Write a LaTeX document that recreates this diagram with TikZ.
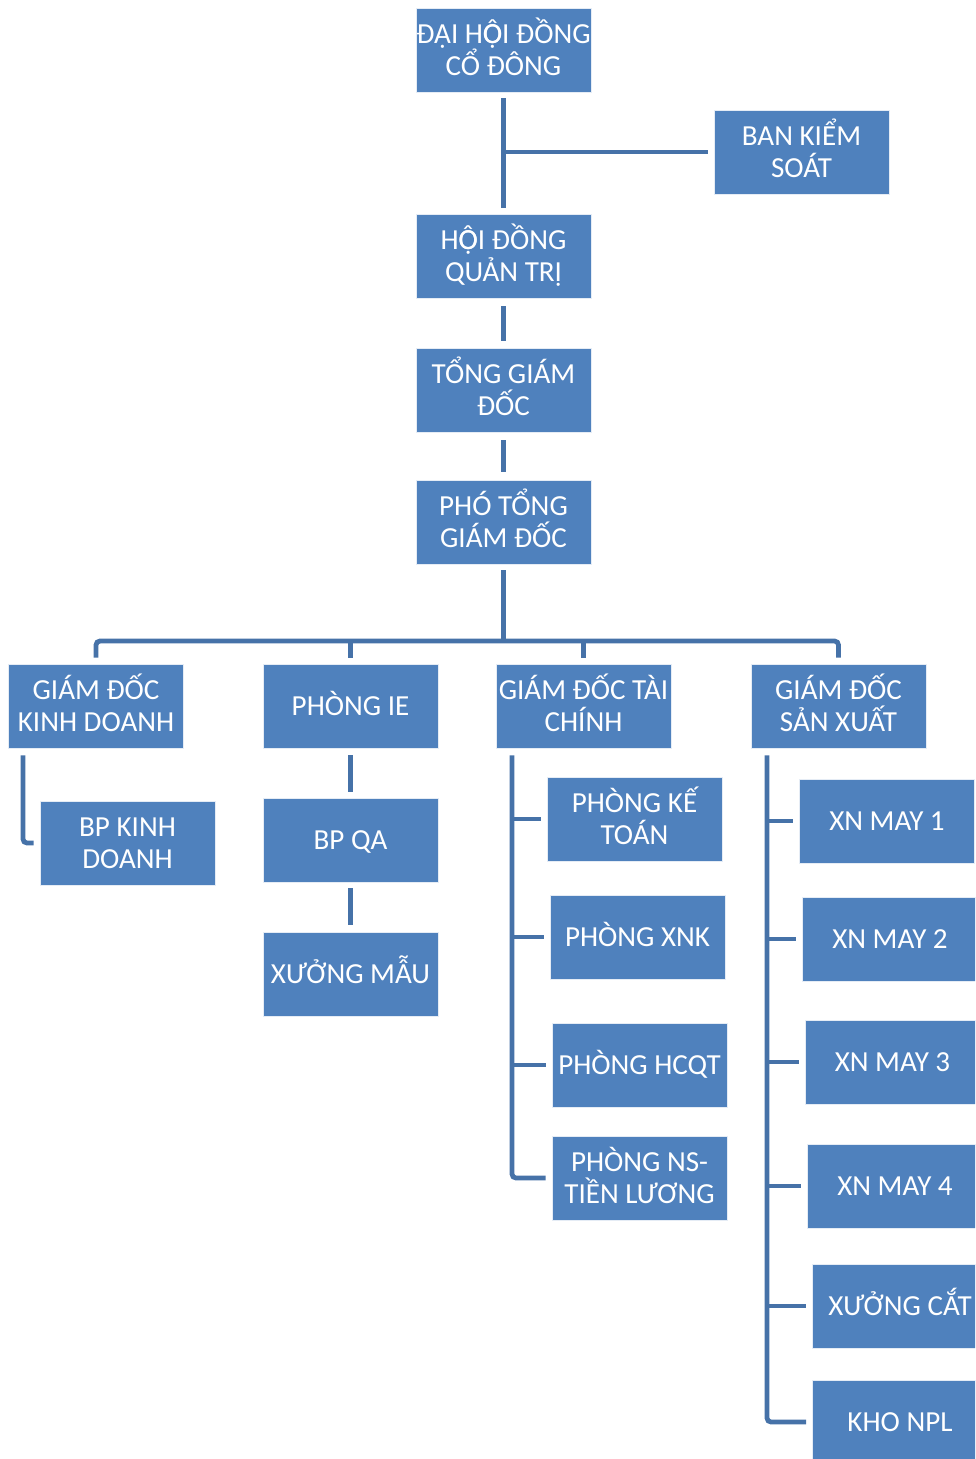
\documentclass[tikz,border=0pt]{standalone}
\usepackage{fontspec}
\setmainfont{Carlito}
\definecolor{boxblue}{HTML}{4F81BD}
\definecolor{lineblue}{HTML}{4672A8}
\newcommand\OHatDot{\ooalign{Ọ\cr Ô}}
\newcommand\boxline[1]{\raisebox{0pt}[14pt][0pt]{#1}}
\tikzset{
  orgbox/.style={draw=white!85!boxblue, line width=0.6pt, fill=boxblue, text=white, minimum width=131.25pt, minimum height=63pt, inner sep=0pt, align=center, font=\fontsize{21.8}{24}\selectfont},
  conn/.style={draw=lineblue, line width=3.6pt},
}
\begin{document}
\begin{tikzpicture}[x=0.75pt,y=-0.75pt]
\useasboundingbox (0,0) rectangle (975,1459);
\clip (0,0) rectangle (975,1459);
% boxes
\node[orgbox] (dhdc) at (503.5,50) {\boxline{ĐẠI H\OHatDot I ĐỒNG}\\\boxline{CỔ ĐÔNG}};
\node[orgbox] (bks) at (801.5,152) {\boxline{BAN KIỂM}\\\boxline{SOÁT}};
\node[orgbox] (hdqt) at (503.5,256.5) {\boxline{H\OHatDot I ĐỒNG}\\\boxline{QUẢN TRỊ}};
\node[orgbox] (tgd) at (503.5,390.5) {\boxline{TỔNG GIÁM}\\\boxline{ĐỐC}};
\node[orgbox] (ptgd) at (503.5,522) {\boxline{PHÓ TỔNG}\\\boxline{GIÁM ĐỐC}};
\node[orgbox] (gdkd) at (96,706) {\boxline{GIÁM ĐỐC}\\\boxline{KINH DOANH}};
\node[orgbox] (ie) at (350.5,706) {\boxline{PHÒNG IE}};
\node[orgbox] (gdtc) at (583.5,706) {\boxline{GIÁM ĐỐC TÀI}\\\boxline{CHÍNH}};
\node[orgbox] (gdsx) at (838.5,706) {\boxline{GIÁM ĐỐC}\\\boxline{SẢN XUẤT}};
\node[orgbox] (bpkd) at (127.5,843) {\boxline{BP KINH}\\\boxline{DOANH}};
\node[orgbox] (qa) at (350.5,840) {\boxline{BP QA}};
\node[orgbox] (xm) at (350.5,974.5) {\boxline{XƯỞNG MẪU}};
\node[orgbox] (kt) at (634.5,819) {\boxline{PHÒNG KẾ}\\\boxline{TOÁN}};
\node[orgbox] (xnk) at (637.5,937) {\boxline{PHÒNG XNK}};
\node[orgbox] (hcqt) at (639.5,1065) {\boxline{PHÒNG HCQT}};
\node[orgbox] (ns) at (639.5,1178) {\boxline{PHÒNG NS-}\\\boxline{TIỀN LƯƠNG}};
\node[orgbox] (xn1) at (887,821) {\boxline{XN MAY 1}};
\node[orgbox] (xn2) at (890,939) {\boxline{XN MAY 2}};
\node[orgbox] (xn3) at (892.5,1062) {\boxline{XN MAY 3}};
\node[orgbox] (xn4) at (895,1186) {\boxline{XN MAY 4}};
\node[orgbox] (xc) at (900,1306) {\boxline{XƯỞNG CẮT}};
\node[orgbox] (npl) at (900,1422) {\boxline{KHO NPL}};
% coordinates
\coordinate (busy) at (0,641);
\coordinate (kdspine) at (23,0);
\coordinate (tcspine) at (512,0);
\coordinate (sxspine) at (767,0);
% connectors top
\draw[conn, shorten <=4.5pt, shorten >=4.5pt] (dhdc) -- (hdqt);
\draw[conn, shorten >=4pt] (dhdc.south |- bks.west) -- (bks.west);
\draw[conn, shorten <=5.5pt, shorten >=5.5pt] (hdqt) -- (tgd);
\draw[conn, shorten <=5.5pt, shorten >=5.5pt] (tgd) -- (ptgd);
\draw[conn, shorten <=4.5pt] (ptgd.south) -- (ptgd.south |- busy);
\draw[conn, rounded corners=3pt] ([yshift=4.5pt]gdkd.north) -- (gdkd.north |- busy) -- (gdsx.north |- busy) -- ([yshift=4.5pt]gdsx.north);
\draw[conn] (ie.north |- busy) -- ([yshift=4.5pt]ie.north);
\draw[conn] (gdtc.north |- busy) -- ([yshift=4.5pt]gdtc.north);
% kinh doanh
\draw[conn, rounded corners=3pt] (kdspine |- gdkd.south) ++(0,-5.25pt) coordinate (kdtop) (kdtop) |- ([xshift=-4.5pt]bpkd.west);
% ie
\draw[conn, shorten <=5.25pt, shorten >=4.5pt] (ie) -- (qa);
\draw[conn, shorten <=4.5pt, shorten >=5.25pt] (qa) -- (xm);
% tai chinh
\draw[conn, rounded corners=3pt] ([yshift=-5.25pt]tcspine |- gdtc.south) |- ([xshift=-4.5pt]ns.west);
\draw[conn] (tcspine |- kt.west) -- ([xshift=-4.5pt]kt.west);
\draw[conn] (tcspine |- xnk.west) -- ([xshift=-4.5pt]xnk.west);
\draw[conn] (tcspine |- hcqt.west) -- ([xshift=-4.5pt]hcqt.west);
% san xuat
\draw[conn, rounded corners=3pt] ([yshift=-5.25pt]sxspine |- gdsx.south) |- ([xshift=-4.5pt]npl.west);
\draw[conn] (sxspine |- xn1.west) -- ([xshift=-4.5pt]xn1.west);
\draw[conn] (sxspine |- xn2.west) -- ([xshift=-4.5pt]xn2.west);
\draw[conn] (sxspine |- xn3.west) -- ([xshift=-4.5pt]xn3.west);
\draw[conn] (sxspine |- xn4.west) -- ([xshift=-4.5pt]xn4.west);
\draw[conn] (sxspine |- xc.west) -- ([xshift=-4.5pt]xc.west);
\end{tikzpicture}
\end{document}
